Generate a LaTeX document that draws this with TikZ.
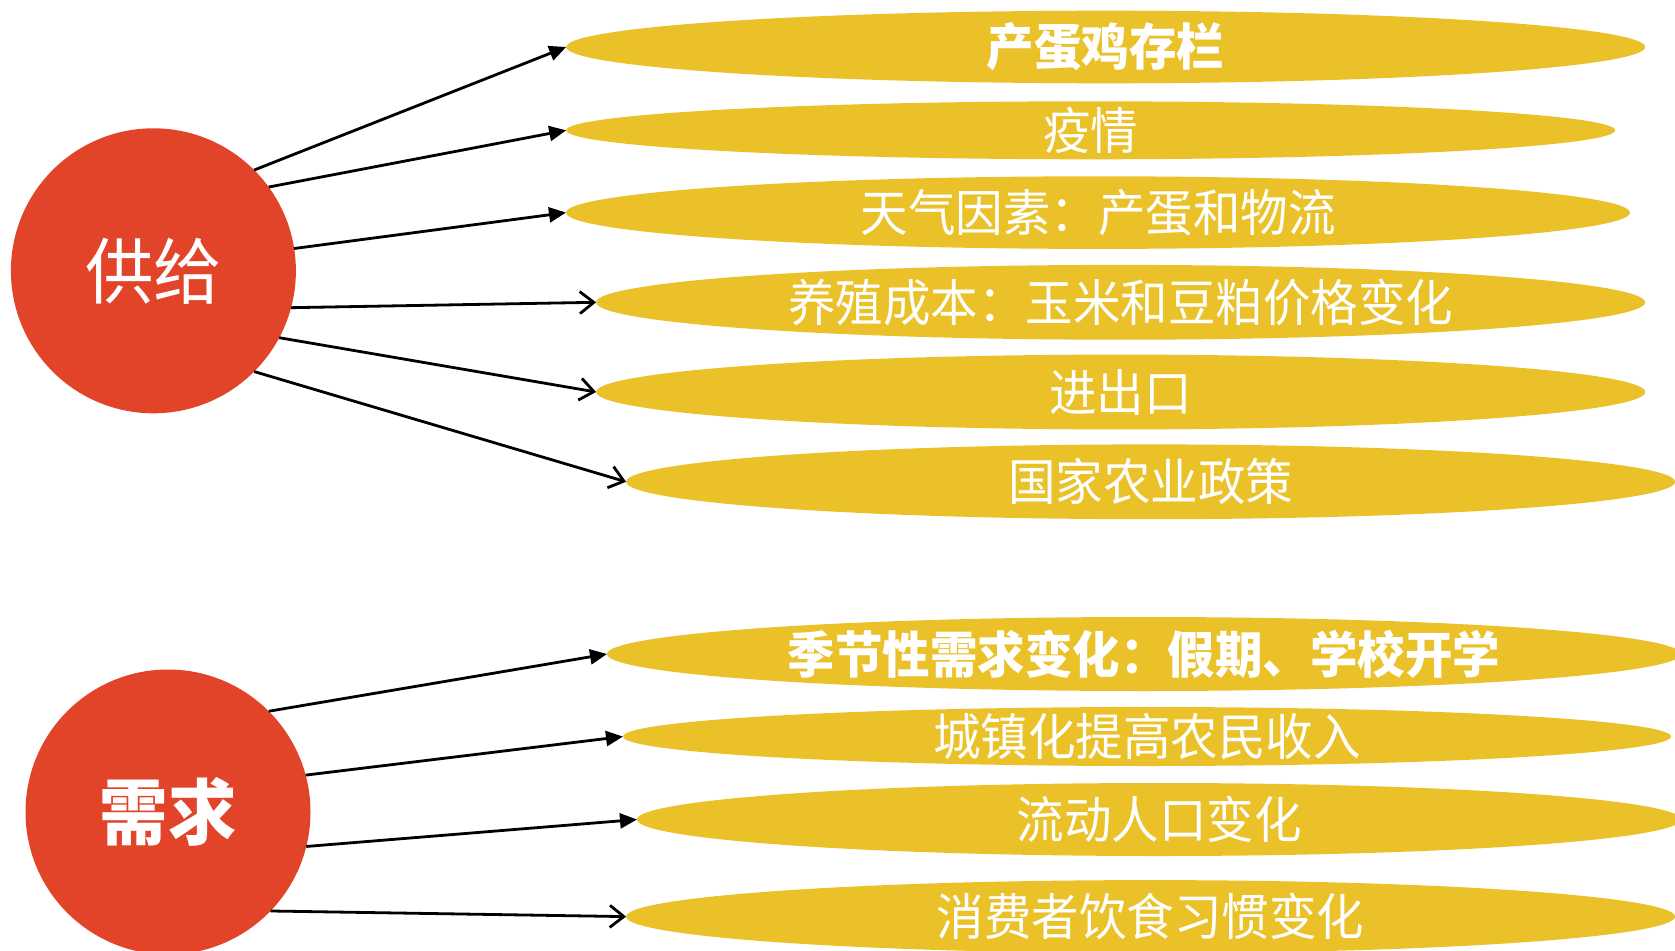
\documentclass[tikz,border=0pt]{standalone}
\usepackage{fontspec}
\newfontfamily\cjk[FakeStretch=0.95]{Noto Sans CJK SC}
\usetikzlibrary{shapes.geometric,arrows.meta}
\definecolor{redc}{HTML}{E2442A}
\definecolor{yelc}{HTML}{EBC12A}
\begin{document}
\begin{tikzpicture}[x=1pt,y=-1pt,
 ell/.style 2 args={ellipse,fill=yelc,draw=none,inner sep=0pt,outer sep=0pt,minimum width=#1pt,minimum height=#2pt},
 etxt/.style={text=white,font=\cjk\fontsize{50}{50}\selectfont,inner sep=0pt},
 hub/.style={circle,fill=redc,minimum size=285pt,inner sep=0pt,outer sep=0pt,text=white,font=\cjk\fontsize{72}{72}\selectfont},
 fa/.style={line width=2.8pt,-{Triangle[length=17pt,width=15pt]}},
 oa/.style={line width=2.8pt,-{Straight Barb[length=14pt,width=22pt]}},
]
\useasboundingbox (0,0) rectangle (1675,950);
\clip (0,0) rectangle (1675,950);
% hubs
\node[hub] (s) at (153.4,270.8) {供给};
\node[hub] (d) at (168,812) {\bfseries 需求};
% ellipses
\node[ell={1079}{72.6}] (e1) at (1105.7,47) {};
\node[ell={1049}{58}] (e2) at (1090.7,130.3) {};
\node[ell={1064}{72.6}] (e3) at (1098,212.6) {};
\node[ell={1049}{74.8}] (e4) at (1120.6,302.3) {};
\node[ell={1049}{74.8}] (e5) at (1120.6,392) {};
\node[ell={1049}{74.8}] (e6) at (1150.6,481.8) {};
\node[ell={1074}{74}] (e7) at (1144,654) {};
\node[ell={1048}{59}] (e8) at (1147,736.5) {};
\node[ell={1044}{73}] (e9) at (1159,819.5) {};
\node[ell={1049}{73}] (e10) at (1150.6,916.6) {};
% texts
\node[etxt] (t1) at (e1) {\bfseries 产蛋鸡存栏};
\node[etxt] (t2) at (e2) {疫情};
\node[etxt] (t3) at (e3) {天气因素：产蛋和物流};
\node[etxt] (t4) at (e4) {养殖成本：玉米和豆粕价格变化};
\node[etxt] (t5) at (e5) {进出口};
\node[etxt] (t6) at (e6) {国家农业政策};
\node[etxt] (t7) at (e7) {\bfseries 季节性需求变化：假期、学校开学};
\node[etxt] (t8) at (e8) {城镇化提高农民收入};
\node[etxt] (t9) at (e9) {流动人口变化};
\node[etxt] (t10) at (e10) {消费者饮食习惯变化};
% arrows
\draw[fa] (s.45) -- (e1.west);
\draw[fa] (s.36.6) -- (e2.west);
\draw[fa] (s.9) -- (e3.west);
\draw[oa] (s.-15) -- (e4.west);
\draw[oa] (s.-28) -- (e5.west);
\draw[oa] (s.-45.4) -- (e6.west);
\draw[fa] (d.45.5) -- (e7.west);
\draw[fa] (d.15.7) -- (e8.west);
\draw[fa] (d.-14.2) -- (e9.west);
\draw[oa] (d.-44.4) -- (e10.west);
\end{tikzpicture}
\end{document}
